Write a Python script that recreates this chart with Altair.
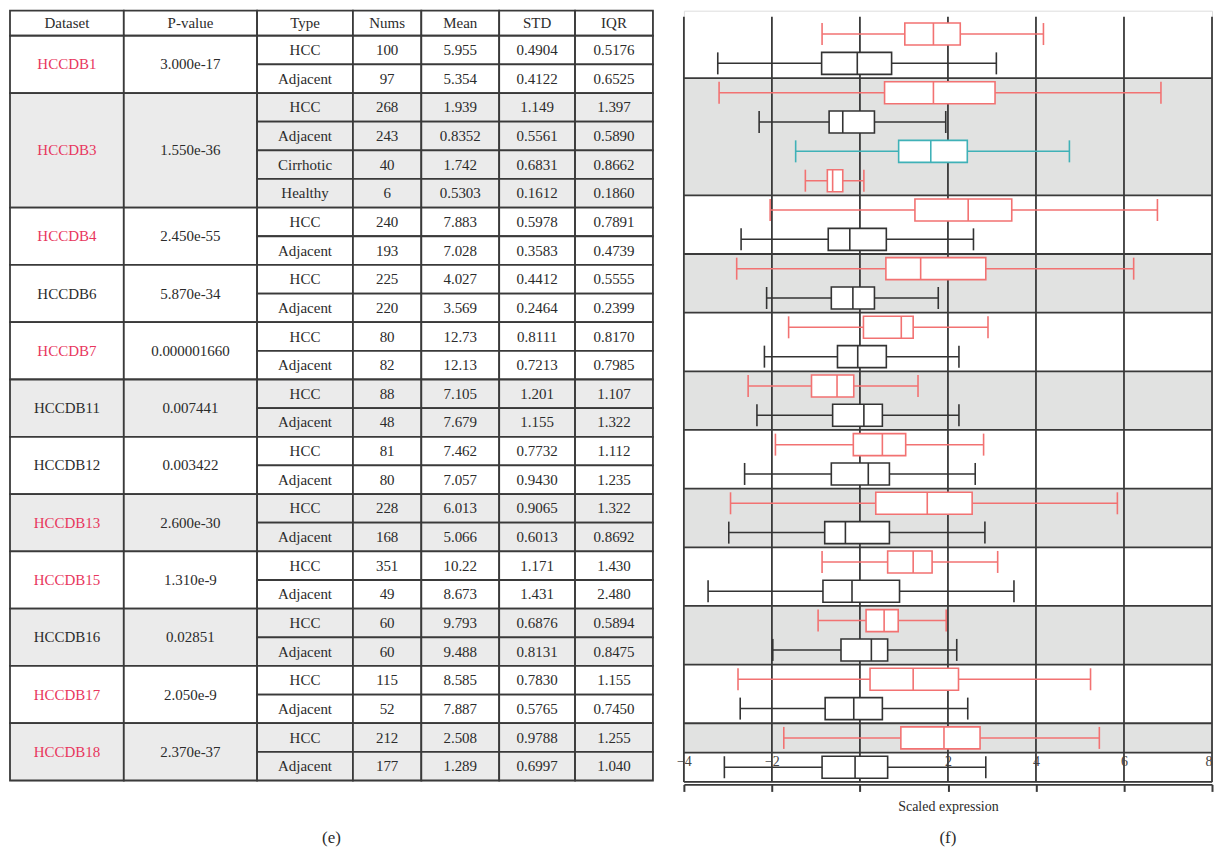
import altair as alt
import pandas as pd

# ---------------- table values ----------------
HEADERS = ["Dataset", "P-value", "Type", "Nums", "Mean", "STD", "IQR"]
DATASETS = ["HCCDB1", "HCCDB3", "HCCDB4", "HCCDB6", "HCCDB7", "HCCDB11",
            "HCCDB12", "HCCDB13", "HCCDB15", "HCCDB16", "HCCDB17", "HCCDB18"]
P_VALUES = ["3.000e-17", "1.550e-36", "2.450e-55", "5.870e-34", "0.000001660", "0.007441",
            "0.003422", "2.600e-30", "1.310e-9", "0.02851", "2.050e-9", "2.370e-37"]
GROUP_SIZES = [2, 4, 2, 2, 2, 2, 2, 2, 2, 2, 2, 2]
DATASET_RED = [True, True, True, False, True, False, False, True, True, False, True, True]
TABLE_GRAY = [False, True, False, False, False, True, False, True, False, True, False, True]

TYPES = ["HCC", "Adjacent", "HCC", "Adjacent", "Cirrhotic", "Healthy"] + ["HCC", "Adjacent"] * 10
NUMS = [100, 97, 268, 243, 40, 6, 240, 193, 225, 220, 80, 82, 88, 48,
        81, 80, 228, 168, 351, 49, 60, 60, 115, 52, 212, 177]
MEAN = ["5.955", "5.354", "1.939", "0.8352", "1.742", "0.5303", "7.883", "7.028", "4.027",
        "3.569", "12.73", "12.13", "7.105", "7.679", "7.462", "7.057", "6.013", "5.066",
        "10.22", "8.673", "9.793", "9.488", "8.585", "7.887", "2.508", "1.289"]
STD = ["0.4904", "0.4122", "1.149", "0.5561", "0.6831", "0.1612", "0.5978", "0.3583", "0.4412",
       "0.2464", "0.8111", "0.7213", "1.201", "1.155", "0.7732", "0.9430", "0.9065", "0.6013",
       "1.171", "1.431", "0.6876", "0.8131", "0.7830", "0.5765", "0.9788", "0.6997"]
IQR = ["0.5176", "0.6525", "1.397", "0.5890", "0.8662", "0.1860", "0.7891", "0.4739", "0.5555",
       "0.2399", "0.8170", "0.7985", "1.107", "1.322", "1.112", "1.235", "1.322", "0.8692",
       "1.430", "2.480", "0.5894", "0.8475", "1.155", "0.7450", "1.255", "1.040"]

# ---------------- box plot values (scaled expression, one per table row) ----------------
LO = [-0.86, -3.23, -3.20, -2.29, -1.46, -1.24, -2.04, -2.70, -2.80, -2.12, -1.62, -2.17, -2.54,
      -2.34, -1.92, -2.62, -2.94, -2.98, -0.86, -3.45, -0.95, -1.98, -2.77, -2.72, -1.73, -3.08]
Q1 = [1.02, -0.87, 0.56, -0.70, 0.88, -0.74, 1.25, -0.72, 0.59, -0.65, 0.08, -0.51, -1.10,
      -0.62, -0.15, -0.65, 0.36, -0.80, 0.63, -0.84, 0.14, -0.43, 0.23, -0.79, 0.93, -0.86]
MED = [1.67, -0.06, 1.67, -0.39, 1.61, -0.62, 2.46, -0.23, 1.38, -0.16, 0.94, -0.05, -0.52,
       0.09, 0.51, 0.19, 1.53, -0.33, 1.21, -0.18, 0.55, 0.26, 1.21, -0.14, 1.91, -0.11]
Q3 = [2.28, 0.72, 3.07, 0.33, 2.44, -0.39, 3.45, 0.60, 2.86, 0.33, 1.21, 0.60, -0.14,
      0.51, 1.04, 0.67, 2.55, 0.67, 1.64, 0.90, 0.87, 0.63, 2.24, 0.51, 2.73, 0.63]
HI = [4.17, 3.10, 6.84, 1.95, 4.76, 0.09, 6.76, 2.58, 6.22, 1.78, 2.91, 2.25, 1.32,
      2.25, 2.81, 2.62, 5.85, 2.84, 3.13, 3.50, 1.96, 2.20, 5.24, 2.45, 5.44, 2.86]

PLOT_BAND_EDGES = [0, 2, 6, 8, 10, 12, 14, 16, 18, 20, 22, 24, 25, 26]
PLOT_BAND_GRAY = [False, True, False, True, False, True, False, True, False, True, False, True, False]
X_TICKS = [-4, -2, 0, 2, 4, 6, 8]

# ---------------- styling / layout ----------------
FONT = "Liberation Serif"
INK = "#2b2b2b"
RED_TXT = "#e8365d"
WHITE = "#ffffff"
GRAY_T = "#ebebeb"
GRAY_P = "#e1e2e1"
LINE = "#3a3a3a"
BOX_COLORS = ["#f27272", "#333333", "#3fb1b7", "#f27272"]

COL_EDGES = [0, 114, 247.5, 343.5, 412, 490, 566, 644]
TABLE_W, TABLE_H = 644, 771.1
HEAD_H = 25.1
ROW_H = (TABLE_H - HEAD_H) / len(TYPES)

PLOT_W, PLOT_H = 529, 772.5
Y_TOP = -0.296
GRID_TOP = -0.09
BOX_HALF = 0.375

# ---------------- table ----------------
cells = []


def add(c0, c1, y0, y1, text, fill, color):
    cells.append(dict(x0=COL_EDGES[c0], x1=COL_EDGES[c1], y0=y0, y1=y1,
                      text=text, fill=fill, color=color))


for j, h in enumerate(HEADERS):
    add(j, j + 1, 0, HEAD_H, h, WHITE, INK)

row = 0
for g, size in enumerate(GROUP_SIZES):
    fill = GRAY_T if TABLE_GRAY[g] else WHITE
    top = HEAD_H + row * ROW_H
    bot = HEAD_H + (row + size) * ROW_H
    add(0, 1, top, bot, DATASETS[g], fill, RED_TXT if DATASET_RED[g] else INK)
    add(1, 2, top, bot, P_VALUES[g], fill, INK)
    for k in range(row, row + size):
        t = HEAD_H + k * ROW_H
        for j, val in enumerate([TYPES[k], str(NUMS[k]), MEAN[k], STD[k], IQR[k]]):
            add(j + 2, j + 3, t, t + ROW_H, val, fill, INK)
    row += size

cell_df = pd.DataFrame(cells)
cell_df["xm"] = (cell_df["x0"] + cell_df["x1"]) / 2
cell_df["ym"] = (cell_df["y0"] + cell_df["y1"]) / 2

tx = alt.Scale(domain=[0, TABLE_W], nice=False, zero=False)
ty = alt.Scale(domain=[0, TABLE_H], nice=False, zero=False, reverse=True)

tbase = alt.Chart(cell_df)
cell_rects = tbase.mark_rect(stroke=LINE, strokeWidth=1.8).encode(
    x=alt.X("x0:Q", scale=tx, axis=None),
    x2="x1:Q",
    y=alt.Y("y0:Q", scale=ty, axis=None),
    y2="y1:Q",
    fill=alt.Fill("fill:N", scale=None),
)
cell_text = tbase.mark_text(fontSize=15, baseline="middle", align="center").encode(
    x=alt.X("xm:Q", scale=tx, axis=None),
    y=alt.Y("ym:Q", scale=ty, axis=None),
    text="text:N",
    color=alt.Color("color:N", scale=None),
)

table = alt.layer(cell_rects, cell_text).properties(
    width=TABLE_W, height=TABLE_H,
    title=alt.TitleParams("(e)", orient="bottom", offset=49, fontSize=17,
                          fontWeight="normal", font=FONT, color=INK),
)

# ---------------- box plot ----------------
box_df = pd.DataFrame({"lo": LO, "q1": Q1, "med": MED, "q3": Q3, "hi": HI, "kind": TYPES})
box_df["ym"] = [i + 0.5 for i in range(len(TYPES))]
box_df["yt"] = box_df["ym"] - BOX_HALF
box_df["yb"] = box_df["ym"] + BOX_HALF

caps_df = pd.concat([
    box_df[["lo", "yt", "yb", "kind"]].rename(columns={"lo": "v"}),
    box_df[["hi", "yt", "yb", "kind"]].rename(columns={"hi": "v"}),
])

band_df = pd.DataFrame({"y0": PLOT_BAND_EDGES[:-1], "y1": PLOT_BAND_EDGES[1:],
                        "gray": PLOT_BAND_GRAY})
sep_df = pd.DataFrame({"y": PLOT_BAND_EDGES[1:]})
grid_df = pd.DataFrame({"x": X_TICKS, "y0": GRID_TOP, "y1": PLOT_BAND_EDGES[-1]})

xs = alt.Scale(domain=[X_TICKS[0], X_TICKS[-1]], nice=False, zero=False)
ys = alt.Scale(domain=[Y_TOP, PLOT_BAND_EDGES[-1]], nice=False, zero=False, reverse=True)
x_axis = alt.Axis(values=X_TICKS, grid=False, domainColor=LINE, domainWidth=1.8,
                  tickColor=LINE, tickWidth=2, tickSize=7, offset=2.5,
                  labelPadding=-37, labelFlush=False, labelFontSize=14, labelColor="#444",
                  labelAlign={"expr": f"datum.value == {X_TICKS[-1]} ? 'right' : 'center'"},
                  labelFont=FONT, labelExpr="datum.value == 0 ? '' : datum.label",
                  titleFont=FONT, titleFontSize=14, titleFontWeight="normal",
                  titleColor=INK, titlePadding=7)
TITLE = "Scaled expression"


def X(f):
    return alt.X(f, scale=xs, axis=x_axis, title=TITLE)


def Y(f):
    return alt.Y(f, scale=ys, axis=None)


KINDS = ["HCC", "Adjacent", "Cirrhotic", "Healthy"]
stroke = alt.Stroke("kind:N", scale=alt.Scale(domain=KINDS, range=BOX_COLORS), legend=None)
color = alt.Color("kind:N", scale=alt.Scale(domain=KINDS, range=BOX_COLORS), legend=None)

bands = alt.Chart(band_df).transform_filter("datum.gray").mark_rect(color=GRAY_P).encode(
    x=alt.X(datum=X_TICKS[0], scale=xs, axis=x_axis, title=TITLE),
    x2=alt.X2(datum=X_TICKS[-1]),
    y=Y("y0:Q"), y2="y1:Q",
)
seps = alt.Chart(sep_df).mark_rule(color=LINE, strokeWidth=1.8).encode(
    x=alt.X(datum=X_TICKS[0], scale=xs, axis=x_axis, title=TITLE),
    x2=alt.X2(datum=X_TICKS[-1]),
    y=Y("y:Q"),
)
grid = alt.Chart(grid_df).mark_rule(color=LINE, strokeWidth=1.8).encode(
    x=X("x:Q"), y=Y("y0:Q"), y2="y1:Q",
)
whisk = alt.Chart(box_df).mark_rule(strokeWidth=1.5).encode(
    x=X("lo:Q"), x2="hi:Q", y=Y("ym:Q"), color=color,
)
boxes = alt.Chart(box_df).mark_rect(fill="white", strokeWidth=1.6).encode(
    x=X("q1:Q"), x2="q3:Q", y=Y("yt:Q"), y2="yb:Q", stroke=stroke,
)
meds = alt.Chart(box_df).mark_rule(strokeWidth=1.6).encode(
    x=X("med:Q"), y=Y("yt:Q"), y2="yb:Q", color=color,
)
caps = alt.Chart(caps_df).mark_rule(strokeWidth=1.6).encode(
    x=X("v:Q"), y=Y("yt:Q"), y2="yb:Q", color=color,
)

box = alt.layer(bands, seps, grid, whisk, boxes, meds, caps).properties(
    width=PLOT_W, height=PLOT_H,
    title=alt.TitleParams("(f)", orient="bottom", offset=17, fontSize=17,
                          fontWeight="normal", font=FONT, color=INK),
)

chart = alt.hconcat(table, box, spacing=31, bounds="flush").properties(
    padding={"left": 0, "top": 0, "right": 0, "bottom": 0}
).configure_view(stroke=None).configure(font=FONT)

chart.save("out.html", embed_options={"renderer": "svg", "actions": False})
